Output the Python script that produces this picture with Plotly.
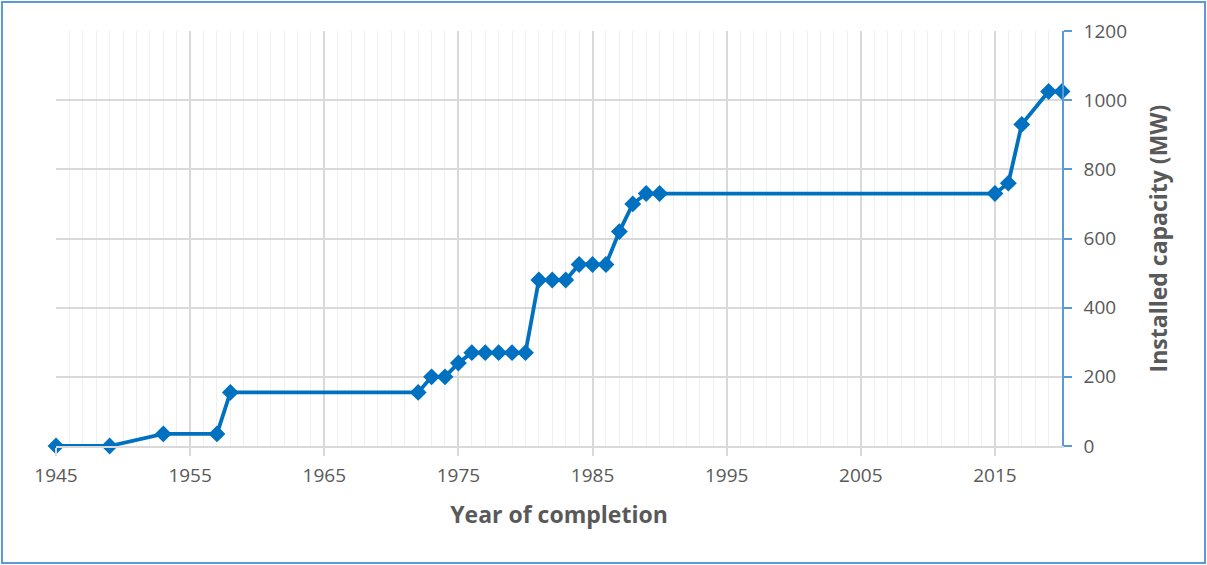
import plotly.graph_objects as go

years = [1945, 1949, 1953, 1957, 1958, 1972, 1973, 1974, 1975, 1976, 1977, 1978,
         1979, 1980, 1981, 1982, 1983, 1984, 1985, 1986, 1987, 1988, 1989, 1990,
         2015, 2016, 2017, 2019, 2020]
capacity_mw = [0, 0, 35, 35, 155, 155, 200, 200, 240, 270, 270, 270,
               270, 270, 480, 480, 480, 525, 525, 525, 620, 700, 730, 730,
               730, 760, 930, 1025, 1025]

x_major_ticks = [1945, 1955, 1965, 1975, 1985, 1995, 2005, 2015]
x_minor_ticks = list(range(1945, 2021))
y_ticks = [0, 200, 400, 600, 800, 1000, 1200]

x_title = "Year of completion"
y_title = "Installed capacity (MW)"

W, H = 1207, 565
ml, mr, mt, mb = 56, 145, 31, 119
pw, ph = W - ml - mr, H - mt - mb

fig = go.Figure()
fig.add_trace(go.Scatter(
    x=years, y=capacity_mw, mode="lines+markers",
    line=dict(color="#0070C0", width=3.8),
    marker=dict(symbol="diamond", size=13, color="#0070C0"),
    showlegend=False, cliponaxis=False,
))

font_family = "Open Sans, Liberation Sans, Arial, sans-serif"
txt = "#595959"

fig.update_layout(
    width=W, height=H,
    margin=dict(l=ml, r=mr, t=mt, b=mb),
    paper_bgcolor="white", plot_bgcolor="white",
    font=dict(family=font_family, color=txt, size=19),
    xaxis=dict(
        range=[1945, 2020], tickmode="array", tickvals=x_major_ticks,
        showgrid=True, gridcolor="#D9D9D9", gridwidth=1.6,
        minor=dict(tickmode="array", tickvals=x_minor_ticks, showgrid=True,
                   gridcolor="#EFEFEF", gridwidth=1.3, ticks=""),
        showline=True, linecolor="#D9D9D9", linewidth=1.6,
        ticks="outside", ticklen=8, tickcolor="#D9D9D9", tickwidth=1.6,
        tickfont=dict(size=19, color=txt),
        ticklabelstandoff=3,
        zeroline=False,
        title=dict(text="<b>" + x_title + "</b>", font=dict(size=23, color=txt), standoff=20),
    ),
    yaxis=dict(
        range=[0, 1200], tickmode="array", tickvals=y_ticks, side="right",
        showgrid=True, gridcolor="#D9D9D9", gridwidth=1.6,
        showline=True, linecolor="#5B9BD5", linewidth=1.6,
        ticks="outside", ticklen=8, tickcolor="#5B9BD5", tickwidth=1.6,
        tickfont=dict(size=19, color=txt),
        ticklabelstandoff=8,
        zeroline=False,
        title=dict(text="<b>" + y_title + "</b>", font=dict(size=23, color=txt), standoff=25),
    ),
)

# outer chart border
fig.add_shape(
    type="rect", xref="paper", yref="paper",
    x0=(2 - ml) / pw, x1=(1205 - ml) / pw,
    y0=(H - mb - 563) / ph, y1=(H - mb - 2) / ph,
    line=dict(color="#5B9BD5", width=2), fillcolor="rgba(0,0,0,0)", layer="below",
)

fig.write_html("out.html", config={"displayModeBar": False},
               post_script="document.body.style.margin='0';")
